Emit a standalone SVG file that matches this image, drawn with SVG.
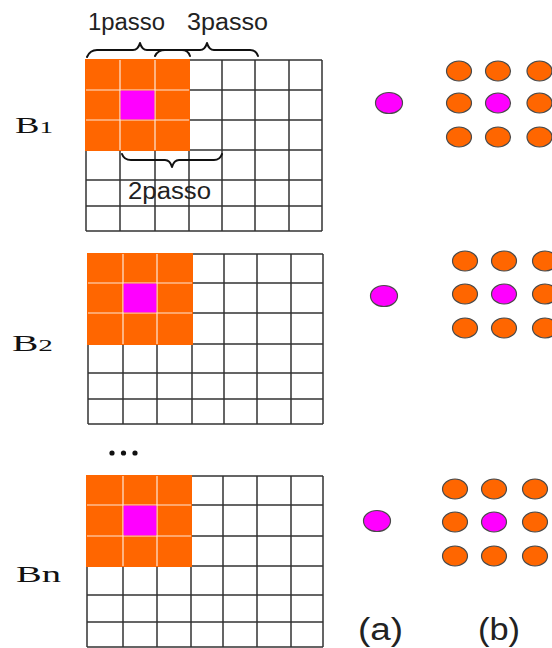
<svg xmlns="http://www.w3.org/2000/svg" width="552" height="648" viewBox="0 0 552 648">
  <style>
    .grid { stroke: #333; stroke-width: 1.5; fill: none; }
    .sep { stroke: #fde6d6; stroke-width: 1.2; fill: none; }
    .hot { fill: #ff6600; }
    .mid { fill: #ff00ff; }
    .dotO { fill: #ff6600; stroke: #4a4a4a; stroke-width: 1.2; }
    .dotP { fill: #ff00ff; stroke: #4a4a4a; stroke-width: 1.2; }
    .brace { stroke: #111; stroke-width: 2; fill: none; stroke-linecap: round; stroke-linejoin: round; }
    .step { font-family: "Liberation Sans", Arial, sans-serif; font-size: 23px; fill: #222; }
    .blk { font-family: "Liberation Serif", "Times New Roman", serif; font-size: 23px; fill: #111; }
    .cap { font-family: "Liberation Sans", Arial, sans-serif; font-size: 31px; fill: #222; }
  </style>

  <rect width="552" height="648" fill="#fff"/>

  <!-- Block B1 -->
  <g id="block-b1">
    <path class="grid" d="M86 60V231M120 60V231M155 60V231M189 60V231M222 60V231M255 60V231M289 60V231M322 60V231
                          M86 60H322M86 90H322M86 120H322M86 150H322M86 180H322M86 206H322M86 231H322"/>
    <rect class="hot" x="85" y="59" width="105" height="92"/>
    <path class="sep" d="M120 60V150M155 60V150M86 90H189M86 120H189"/>
    <rect class="mid" x="120.6" y="90.6" width="33.8" height="28.8"/>
    <text class="blk" x="15" y="133" textLength="38" lengthAdjust="spacingAndGlyphs">B<tspan font-size="17">1</tspan></text>
  </g>

  <!-- Block B2 -->
  <g id="block-b2">
    <path class="grid" d="M88 254V424M123 254V424M157 254V424M192 254V424M224 254V424M257 254V424M291 254V424M323 254V424
                          M88 254H323M88 283H323M88 313H323M88 344H323M88 373H323M88 399H323M88 424H323"/>
    <rect class="hot" x="87" y="253" width="106" height="92"/>
    <path class="sep" d="M123 254V344M157 254V344M88 283H192M88 313H192"/>
    <rect class="mid" x="123.6" y="283.6" width="32.8" height="28.8"/>
    <text class="blk" x="12" y="351" textLength="41" lengthAdjust="spacingAndGlyphs">B<tspan font-size="17">2</tspan></text>
  </g>

  <!-- Ellipsis between B2 and Bn -->
  <g id="ellipsis" fill="#111">
    <circle cx="112" cy="453" r="2.6"/>
    <circle cx="123.5" cy="453" r="2.6"/>
    <circle cx="135" cy="453" r="2.6"/>
  </g>

  <!-- Block Bn -->
  <g id="block-bn">
    <path class="grid" d="M87 476V647M123 476V647M157 476V647M191 476V647M223 476V647M257 476V647M291 476V647M323 476V647
                          M87 476H323M87 505H323M87 536H323M87 566H323M87 595H323M87 622H323M87 647H323"/>
    <rect class="hot" x="86" y="475" width="106" height="92"/>
    <path class="sep" d="M123 476V566M157 476V566M87 505H191M87 536H191"/>
    <rect class="mid" x="123.6" y="505.6" width="32.8" height="29.8"/>
    <text class="blk" x="16" y="582" textLength="45" lengthAdjust="spacingAndGlyphs">Bn</text>
  </g>

  <!-- Step braces and labels -->
  <g id="steps">
    <path class="brace" d="M87 57 Q90 50 97 50 H133 Q138 50 140 43 Q142 50 147 50 H182 Q188 50 190 56"/>
    <path class="brace" d="M155 56 Q158 50 165 50 H200 Q205 50 207 43 Q209 50 214 50 H250 Q256 50 258 56"/>
    <path class="brace" d="M122 154 Q124 160 131 160 H165 Q170 160 172 167 Q174 160 179 160 H214 Q220 160 222 154"/>
    <text class="step" x="88" y="30" textLength="77" lengthAdjust="spacingAndGlyphs">1passo</text>
    <text class="step" x="187" y="30" textLength="81" lengthAdjust="spacingAndGlyphs">3passo</text>
    <text class="step" x="128" y="199" textLength="83" lengthAdjust="spacingAndGlyphs">2passo</text>
  </g>

  <!-- Column (a): single centre sample per block -->
  <g id="col-a">
    <ellipse class="dotP" cx="389" cy="103" rx="13.5" ry="10.5"/>
    <ellipse class="dotP" cx="384" cy="296" rx="13.5" ry="10.5"/>
    <ellipse class="dotP" cx="377" cy="521" rx="13.5" ry="10.5"/>
    <text class="cap" x="358" y="640" textLength="45" lengthAdjust="spacingAndGlyphs">(a)</text>
  </g>

  <!-- Column (b): 3x3 neighbourhood per block -->
  <g id="col-b">
    <ellipse class="dotO" cx="459" cy="71" rx="12.5" ry="10"/>
    <ellipse class="dotO" cx="498" cy="71" rx="12.5" ry="10"/>
    <ellipse class="dotO" cx="539.5" cy="71" rx="12.5" ry="10"/>
    <ellipse class="dotO" cx="459" cy="103" rx="12.5" ry="10"/>
    <ellipse class="dotP" cx="498" cy="103" rx="12.5" ry="10"/>
    <ellipse class="dotO" cx="539.5" cy="103" rx="12.5" ry="10"/>
    <ellipse class="dotO" cx="459" cy="137" rx="12.5" ry="10"/>
    <ellipse class="dotO" cx="498" cy="137" rx="12.5" ry="10"/>
    <ellipse class="dotO" cx="539.5" cy="137" rx="12.5" ry="10"/>

    <ellipse class="dotO" cx="465" cy="261" rx="12.5" ry="10"/>
    <ellipse class="dotO" cx="504" cy="261" rx="12.5" ry="10"/>
    <ellipse class="dotO" cx="545" cy="261" rx="12.5" ry="10"/>
    <ellipse class="dotO" cx="465" cy="294" rx="12.5" ry="10"/>
    <ellipse class="dotP" cx="504" cy="294" rx="12.5" ry="10"/>
    <ellipse class="dotO" cx="545" cy="294" rx="12.5" ry="10"/>
    <ellipse class="dotO" cx="465" cy="328" rx="12.5" ry="10"/>
    <ellipse class="dotO" cx="504" cy="328" rx="12.5" ry="10"/>
    <ellipse class="dotO" cx="545" cy="328" rx="12.5" ry="10"/>

    <ellipse class="dotO" cx="455" cy="489" rx="12.5" ry="10"/>
    <ellipse class="dotO" cx="494" cy="489" rx="12.5" ry="10"/>
    <ellipse class="dotO" cx="535" cy="489" rx="12.5" ry="10"/>
    <ellipse class="dotO" cx="455" cy="522" rx="12.5" ry="10"/>
    <ellipse class="dotP" cx="494" cy="522" rx="12.5" ry="10"/>
    <ellipse class="dotO" cx="535" cy="522" rx="12.5" ry="10"/>
    <ellipse class="dotO" cx="455" cy="556" rx="12.5" ry="10"/>
    <ellipse class="dotO" cx="494" cy="556" rx="12.5" ry="10"/>
    <ellipse class="dotO" cx="535" cy="556" rx="12.5" ry="10"/>
    <text class="cap" x="478" y="640" textLength="42" lengthAdjust="spacingAndGlyphs">(b)</text>
  </g>
</svg>
